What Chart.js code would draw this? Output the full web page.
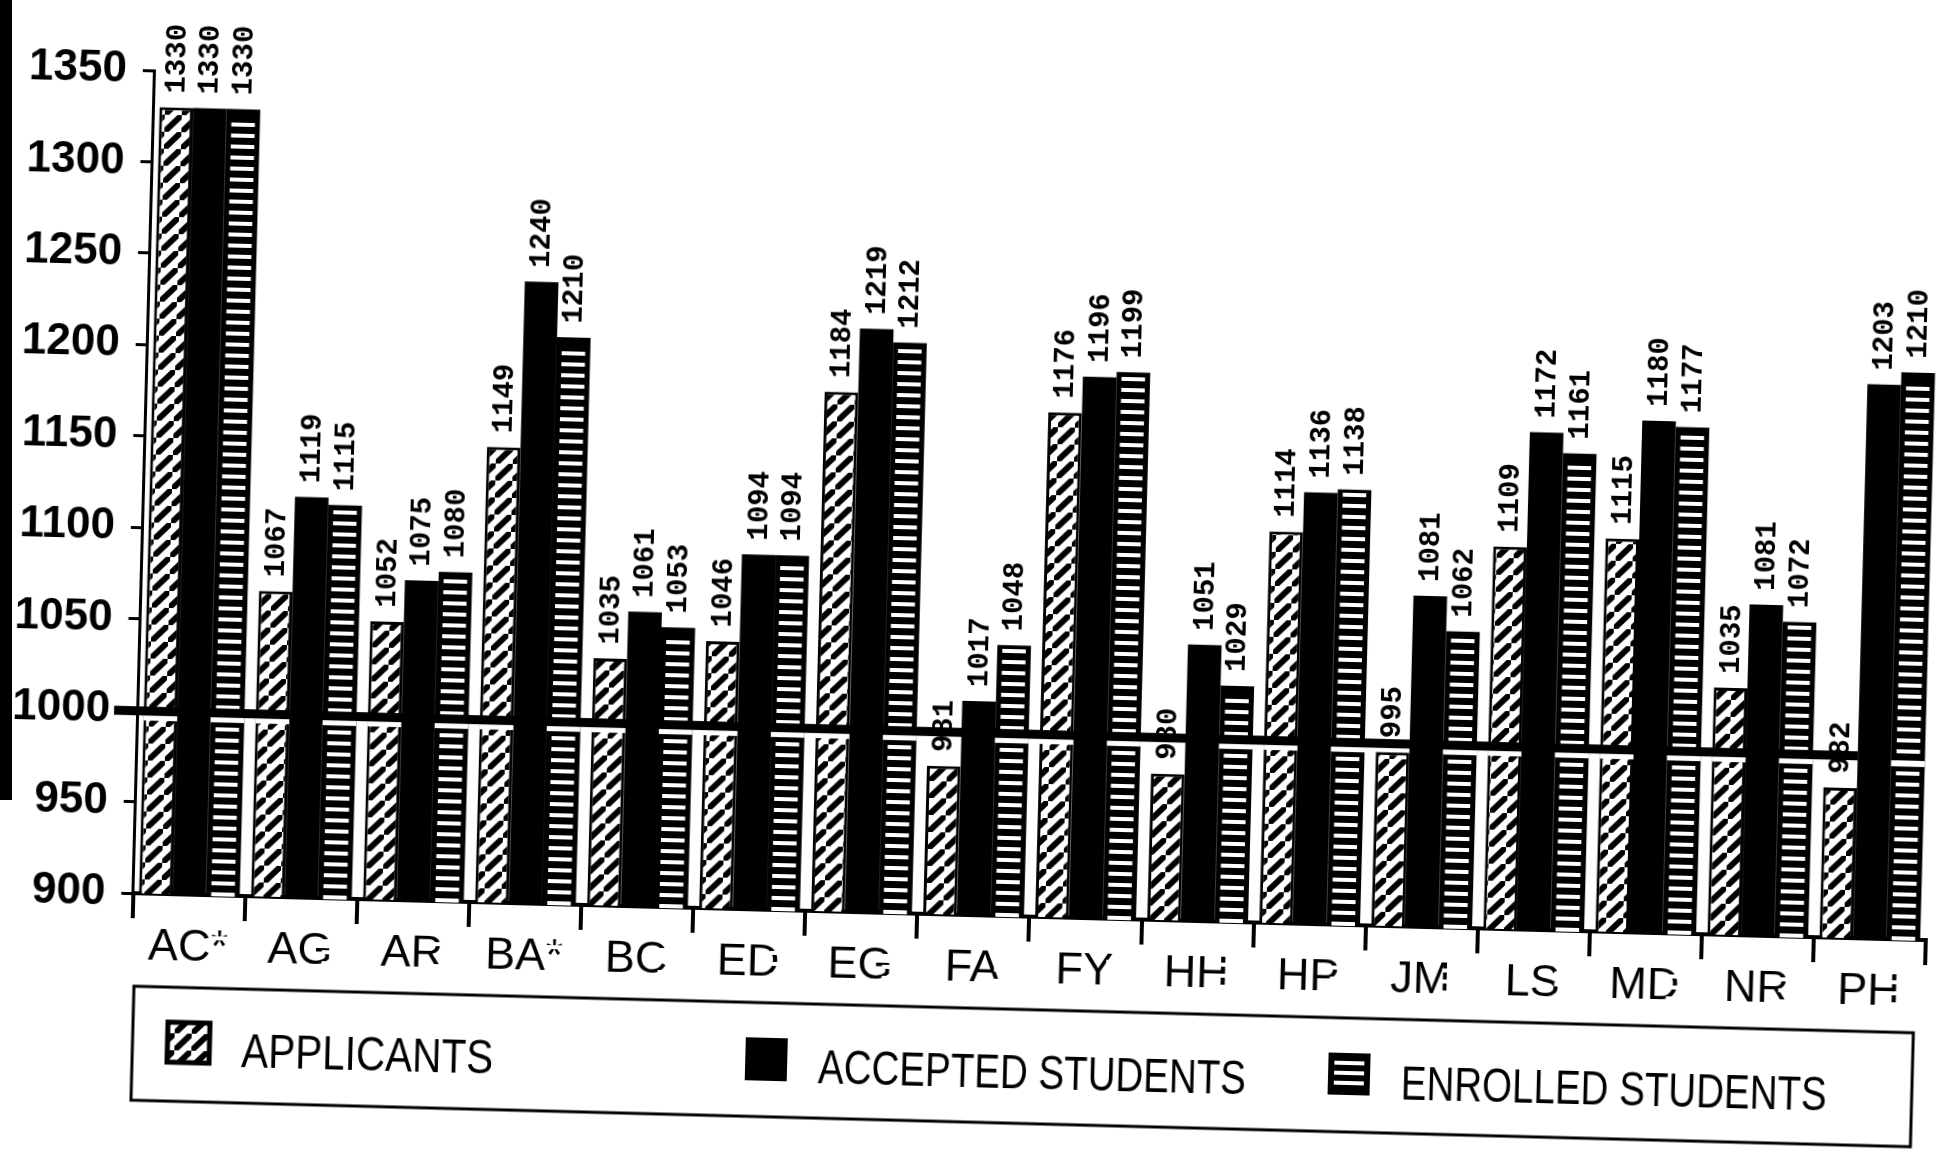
<!DOCTYPE html>
<html>
<head>
<meta charset="utf-8">
<script src="https://cdn.jsdelivr.net/npm/chart.js@4.4.1/dist/chart.umd.min.js"></script>
<style>
  html, body { margin: 0; padding: 0; background: #fff; overflow: hidden; }
  #wrap { position: relative; width: 1944px; height: 1151px; }
  #chart { position: absolute; left: 0; top: 0; transform: rotate(1.5deg); transform-origin: 50% 50%; }
  #edge { position: absolute; left: 0; top: 0; width: 12px; height: 800px; background: #000; }
</style>
</head>
<body>
<div id="wrap">
  <canvas id="chart" width="1944" height="1151"></canvas>
  <div id="edge"></div>
</div>
<script>
// ─── Data ──────────────────────────────────────────────────
const categories = ['AC*', 'AG', 'AR', 'BA*', 'BC', 'ED', 'EG', 'FA', 'FY', 'HH', 'HP', 'JM', 'LS', 'MD', 'NR', 'PH'];
const applicants = [1330, 1067, 1052, 1149, 1035, 1046, 1184, 981, 1176, 980, 1114, 995, 1109, 1115, 1035, 982];
const accepted   = [1330, 1119, 1075, 1240, 1061, 1094, 1219, 1017, 1196, 1051, 1136, 1081, 1172, 1180, 1081, 1203];
const enrolled   = [1330, 1115, 1080, 1210, 1053, 1094, 1212, 1048, 1199, 1029, 1138, 1062, 1161, 1177, 1072, 1210];
const seriesNames = ['APPLICANTS', 'ACCEPTED STUDENTS', 'ENROLLED STUDENTS'];

const Y_MIN = 900;
const Y_MAX = 1350;
const Y_STEP = 50;
const REF_LEVEL = 1000;

const SANS = "'Liberation Sans', Arial, sans-serif";
const MONO = "'Liberation Mono', 'DejaVu Sans Mono', monospace";

const canvas = document.getElementById('chart');
const ctx = canvas.getContext('2d');

// diagonal "/" hatch on white
function makeHatch() {
  const w = 17, h = 17;
  const c = document.createElement('canvas');
  c.width = w; c.height = h;
  const g = c.getContext('2d');
  g.fillStyle = '#fff';
  g.fillRect(0, 0, w, h);
  g.strokeStyle = '#000';
  g.lineWidth = 6;
  [[-w, h], [0, 0], [w, -h]].forEach(([dx, dy]) => {
    g.beginPath();
    g.moveTo(dx, h + dy);
    g.lineTo(w + dx, dy);
    g.stroke();
  });
  return ctx.createPattern(c, 'repeat');
}
const HATCH = makeHatch();

// white dashes inside the enrolled bars
function drawDashes(g, x, top, bottom, width) {
  g.fillStyle = '#fff';
  const dw = width * 0.7;
  for (let yy = bottom - 8; yy > top + 5; yy -= 11) {
    g.fillRect(x - dw / 2, yy - 2, dw, 4);
  }
}

const enrolledDashes = {
  id: 'enrolledDashes',
  afterDatasetsDraw(chart) {
    const g = chart.ctx;
    const meta = chart.getDatasetMeta(2);
    g.save();
    meta.data.forEach(el => {
      const { x, y, base, width } = el.getProps(['x', 'y', 'base', 'width'], true);
      drawDashes(g, x, y, base, width);
    });
    g.restore();
  },
};

// thick reference line at 1000
const refLine = {
  id: 'refLine',
  afterDatasetsDraw(chart) {
    const g = chart.ctx;
    const yPix = chart.scales.y.getPixelForValue(REF_LEVEL);
    const lastApp = chart.getDatasetMeta(0).data[categories.length - 1];
    const endX = lastApp.x + lastApp.width / 2;
    g.save();
    // white gap below line on hatched / striped bars
    g.fillStyle = '#fff';
    [0, 2].forEach(di => {
      chart.getDatasetMeta(di).data.forEach(el => {
        if (el.y < yPix - 6) g.fillRect(el.x - el.width / 2, yPix + 4, el.width, 6);
      });
    });
    g.fillStyle = '#000';
    g.fillRect(chart.chartArea.left - 24, yPix - 4, endX - chart.chartArea.left + 24, 9);
    g.restore();
  },
};

// rotated value labels above each bar
const valueLabels = {
  id: 'valueLabels',
  afterDatasetsDraw(chart) {
    const g = chart.ctx;
    g.save();
    g.fillStyle = '#000';
    g.font = `bold 29px ${MONO}`;
    g.textAlign = 'left';
    g.textBaseline = 'middle';
    chart.data.datasets.forEach((ds, di) => {
      chart.getDatasetMeta(di).data.forEach((el, i) => {
        g.save();
        g.translate(el.x, el.y - 14);
        g.rotate(-Math.PI / 2);
        g.fillText(String(ds.data[i]), 0, 0);
        g.restore();
      });
    });
    g.restore();
  },
};

// boxed legend under the axis
function fitText(g, text, x, y, width) {
  const m = g.measureText(text).width;
  g.save();
  g.translate(x, y);
  g.scale(width / m, 1);
  g.fillText(text, 0, 0);
  g.restore();
}

const boxLegend = {
  id: 'boxLegend',
  afterDraw(chart) {
    const g = chart.ctx;
    g.save();
    g.strokeStyle = '#000';
    g.lineWidth = 3;
    g.strokeRect(145, 1008, 1780, 114);

    const sw = 42, sh = 40, sy = 1063;
    // applicants swatch
    g.fillStyle = HATCH;
    g.fillRect(201 - sw / 2, sy - sh / 2, sw, sh);
    g.lineWidth = 5;
    g.strokeRect(201 - sw / 2, sy - sh / 2, sw, sh);
    // accepted swatch
    g.fillStyle = '#000';
    g.fillRect(779 - sw / 2, sy - sh / 2, sw, sh + 3);
    // enrolled swatch
    g.fillRect(1362 - sw / 2, sy - sh / 2, sw, sh + 2);
    g.fillStyle = '#fff';
    for (let k = 0; k < 3; k++) g.fillRect(1362 - sw / 2 + 6, sy - sh / 2 + 8 + k * 10, sw - 12, 4);

    g.fillStyle = '#000';
    g.font = `49px ${SANS}`;
    g.textBaseline = 'middle';
    g.textAlign = 'left';
    fitText(g, seriesNames[0], 254, 1072, 252);
    fitText(g, seriesNames[1], 831, 1073, 428);
    fitText(g, seriesNames[2], 1414, 1074, 426);
    g.restore();
  },
};

new Chart(canvas, {
  type: 'bar',
  data: {
    labels: categories,
    datasets: [
      { label: seriesNames[0], data: applicants, backgroundColor: HATCH, borderColor: '#000', borderWidth: 3, borderSkipped: 'bottom' },
      { label: seriesNames[1], data: accepted,   backgroundColor: '#000', borderWidth: 0 },
      { label: seriesNames[2], data: enrolled,   backgroundColor: '#000', borderWidth: 0 },
    ],
  },
  options: {
    responsive: false,
    animation: false,
    devicePixelRatio: 1,
    datasets: { bar: { categoryPercentage: 0.9, barPercentage: 1.0 } },
    layout: { padding: { left: 0, top: 92, right: 9, bottom: 116 } },
    plugins: {
      legend: { display: false },
      tooltip: { enabled: false },
    },
    scales: {
      x: {
        offset: true,
        grid: { offset: true, drawOnChartArea: false, drawTicks: true, tickLength: 25, color: '#000', lineWidth: 4 },
        border: { color: '#000', width: 4 },
        ticks: { color: '#000', padding: 2, font: { family: SANS, size: 45 }, maxRotation: 0 },
        afterFit: s => { s.height = 120; },
      },
      y: {
        min: Y_MIN,
        max: Y_MAX,
        grid: { drawOnChartArea: false, tickLength: 12, color: '#000', lineWidth: 3 },
        border: { color: '#000', width: 3 },
        ticks: {
          stepSize: Y_STEP, color: '#000', padding: 16,
          font: { family: SANS, size: 44, weight: 'bold' },
          callback: v => String(v),
        },
      },
    },
  },
  plugins: [enrolledDashes, refLine, valueLabels, boxLegend],
});
</script>
</body>
</html>
